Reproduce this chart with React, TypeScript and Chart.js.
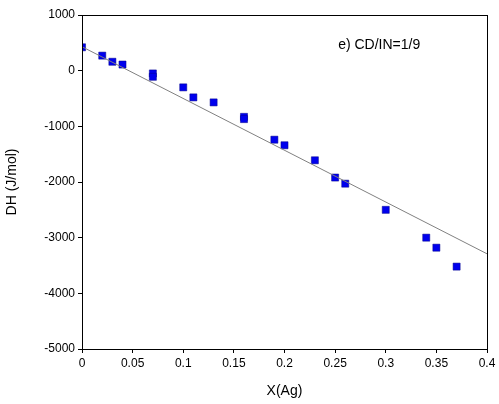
import React, { useEffect, useRef } from 'react';
import Chart from 'chart.js/auto';

const xValues = [0, 0.02, 0.03, 0.04, 0.07, 0.07, 0.1, 0.11, 0.13, 0.16, 0.16, 0.19, 0.2, 0.23, 0.25, 0.26, 0.3, 0.34, 0.35, 0.37];
const dhValues = [420, 270, 160, 110, -50, -110, -300, -480, -570, -830, -870, -1240, -1340, -1610, -1920, -2030, -2500, -3000, -3180, -3520];
const fitX = [0, 0.4];
const fitY = [430, -3290];
const label = 'e) CD/IN=1/9';

const font = 'Liberation Sans, Arial, sans-serif';

const App: React.FC = () => {
  const chartRef = useRef<HTMLCanvasElement>(null);

  useEffect(() => {
    document.body.style.margin = '0';
    if (!chartRef.current) return;

    const boxPlugin = {
      id: 'box',
      afterDraw(chart: any) {
        const { ctx, chartArea: a, scales } = chart;
        ctx.save();
        ctx.strokeStyle = '#000';
        ctx.lineWidth = 1;
        ctx.strokeRect(a.left + 0.5, a.top + 0.5, a.right - a.left, a.bottom - a.top);
        ctx.fillStyle = '#000';
        ctx.font = `14px ${font}`;
        ctx.textBaseline = 'middle';
        ctx.fillText(label, scales.x.getPixelForValue(0.253), scales.y.getPixelForValue(450));
        ctx.restore();
      },
    };

    const chart = new Chart(chartRef.current, {
      type: 'scatter',
      data: {
        datasets: [
          {
            type: 'line',
            data: fitX.map((x, i) => ({ x, y: fitY[i] })),
            borderColor: '#808080',
            borderWidth: 1,
            pointRadius: 0,
          },
          {
            data: xValues.map((x, i) => ({ x, y: dhValues[i] })),
            backgroundColor: '#0000ee',
            borderColor: '#000088',
            borderWidth: 0.5,
            pointStyle: 'rect',
            pointRadius: 5,
          },
        ],
      },
      options: {
        animation: false,
        responsive: false,
        layout: { padding: { top: 15, right: 12, left: 0, bottom: 0 } },
        plugins: { legend: { display: false }, tooltip: { enabled: false } },
        scales: {
          x: {
            type: 'linear',
            min: 0,
            max: 0.4,
            afterFit: (s: any) => { s.height = 55; },
            ticks: { stepSize: 0.05, color: '#000', font: { size: 12, family: font }, padding: 3, callback: (v: any) => String(Math.round(v * 100) / 100) },
            grid: { drawOnChartArea: false, color: '#000', tickLength: 4 },
            border: { color: '#000' },
            title: { display: true, text: 'X(Ag)', color: '#000', font: { size: 14, family: font }, padding: { top: 0 } },
          },
          y: {
            min: -5000,
            max: 1000,
            afterFit: (s: any) => { s.width = 82; },
            ticks: { stepSize: 1000, color: '#000', font: { size: 12, family: font }, padding: 3, callback: (v: any) => String(v) },
            grid: { drawOnChartArea: false, color: '#000', tickLength: 4 },
            border: { color: '#000' },
            title: { display: true, text: 'DH (J/mol)', color: '#000', font: { size: 14, family: font } },
          },
        },
      },
      plugins: [boxPlugin],
    });

    return () => chart.destroy();
  }, []);

  return (
    <div style={{ width: 499, height: 404, background: '#fff' }}>
      <canvas ref={chartRef} width={499} height={404}></canvas>
    </div>
  );
};

export default App;
